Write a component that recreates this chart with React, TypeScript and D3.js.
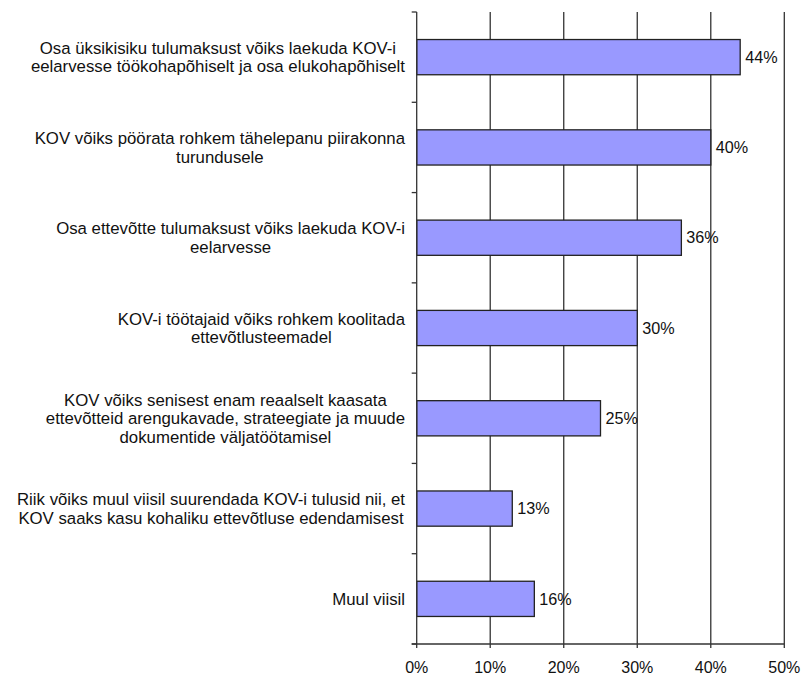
import React, { useEffect, useRef } from "react";
import * as d3 from "d3";

const categories: string[] = [
  "Osa üksikisiku tulumaksust võiks laekuda KOV-i\neelarvesse töökohapõhiselt ja osa elukohapõhiselt",
  "KOV võiks pöörata rohkem tähelepanu piirakonna\nturundusele",
  "Osa ettevõtte tulumaksust võiks laekuda KOV-i\neelarvesse",
  "KOV-i töötajaid võiks rohkem koolitada\nettevõtlusteemadel",
  "KOV võiks senisest enam reaalselt kaasata\nettevõtteid arengukavade, strateegiate ja muude\ndokumentide väljatöötamisel",
  "Riik võiks muul viisil suurendada KOV-i tulusid nii, et\nKOV saaks kasu kohaliku ettevõtluse edendamisest",
  "Muul viisil",
];
const values: number[] = [44, 40, 36, 30, 25, 13, 16];
const xTicks: number[] = [0, 10, 20, 30, 40, 50];

const W = 801;
const H = 677;
const M = { left: 416.7, right: 784.3, top: 12, bottom: 644 };
const FONT = "'Liberation Sans', Arial, sans-serif";
const FS_CAT = 16.8;
const FS_VAL = 16.2;
const FS_TICK = 16;
const LINE = 18.4;

export default function App() {
  const ref = useRef<SVGSVGElement>(null);
  useEffect(() => {
    const svg = d3.select(ref.current);
    svg.selectAll("*").remove();
    const x = d3.scaleLinear().domain([0, 50]).range([M.left, M.right]);
    const y = d3
      .scaleBand<number>()
      .domain(d3.range(categories.length))
      .range([M.top, M.bottom])
      .paddingInner(0.61)
      .paddingOuter(0.305);
    const step = (M.bottom - M.top) / categories.length;

    // gridlines
    svg
      .append("g")
      .selectAll("line")
      .data(xTicks.slice(1))
      .join("line")
      .attr("x1", (d) => x(d))
      .attr("x2", (d) => x(d))
      .attr("y1", M.top)
      .attr("y2", M.bottom + 4)
      .attr("stroke", "#333")
      .attr("stroke-width", 1.3);

    // bars
    svg
      .append("g")
      .selectAll("rect")
      .data(values)
      .join("rect")
      .attr("x", x(0))
      .attr("y", (_, i) => y(i)!)
      .attr("width", (d) => x(d) - x(0))
      .attr("height", y.bandwidth())
      .attr("fill", "#9999FF")
      .attr("stroke", "#222")
      .attr("stroke-width", 1.3);

    // value labels
    svg
      .append("g")
      .selectAll("text")
      .data(values)
      .join("text")
      .attr("x", (d) => x(d) + 5)
      .attr("y", (_, i) => y(i)! + y.bandwidth() / 2)
      .attr("dy", "0.35em")
      .attr("font-family", FONT)
      .attr("font-size", FS_VAL)
      .attr("fill", "#111")
      .text((d) => `${d}%`);

    // left axis
    svg
      .append("line")
      .attr("x1", M.left)
      .attr("x2", M.left)
      .attr("y1", M.top)
      .attr("y2", M.bottom + 4)
      .attr("stroke", "#333")
      .attr("stroke-width", 1.3);
    svg
      .append("g")
      .selectAll("line")
      .data(d3.range(categories.length + 1))
      .join("line")
      .attr("x1", M.left - 5)
      .attr("x2", M.left)
      .attr("y1", (i) => M.top + i * step)
      .attr("y2", (i) => M.top + i * step)
      .attr("stroke", "#333")
      .attr("stroke-width", 1.3);

    // bottom axis
    svg
      .append("line")
      .attr("x1", M.left - 5)
      .attr("x2", M.right)
      .attr("y1", M.bottom)
      .attr("y2", M.bottom)
      .attr("stroke", "#333")
      .attr("stroke-width", 1.3);
    svg
      .append("g")
      .selectAll("text")
      .data(xTicks)
      .join("text")
      .attr("x", (d) => x(d))
      .attr("y", 667)
      .attr("dy", "0.35em")
      .attr("text-anchor", "middle")
      .attr("font-family", FONT)
      .attr("font-size", FS_TICK)
      .attr("fill", "#111")
      .text((d) => `${d}%`);

    // category labels (multi-line, centered block, right-aligned to axis)
    const labelRight = 405;
    categories.forEach((c, i) => {
      const lines = c.split("\n");
      const cy = M.top + (i + 0.5) * step;
      const g = svg.append("g");
      const texts = g
        .selectAll("text")
        .data(lines)
        .join("text")
        .attr("y", (_, j) => cy + (j - (lines.length - 1) / 2) * LINE)
        .attr("dy", "0.35em")
        .attr("text-anchor", "middle")
        .attr("font-family", FONT)
        .attr("font-size", FS_CAT)
        .attr("fill", "#111")
        .text((d) => d);
      let maxW = 0;
      texts.each(function () {
        const w = (this as SVGTextElement).getComputedTextLength();
        if (w > maxW) maxW = w;
      });
      texts.attr("x", labelRight - maxW / 2);
    });
  }, []);
  return (
    <svg
      ref={ref}
      width={W}
      height={H}
      style={{ position: "absolute", left: 0, top: 0, background: "#fff" }}
    />
  );
}
